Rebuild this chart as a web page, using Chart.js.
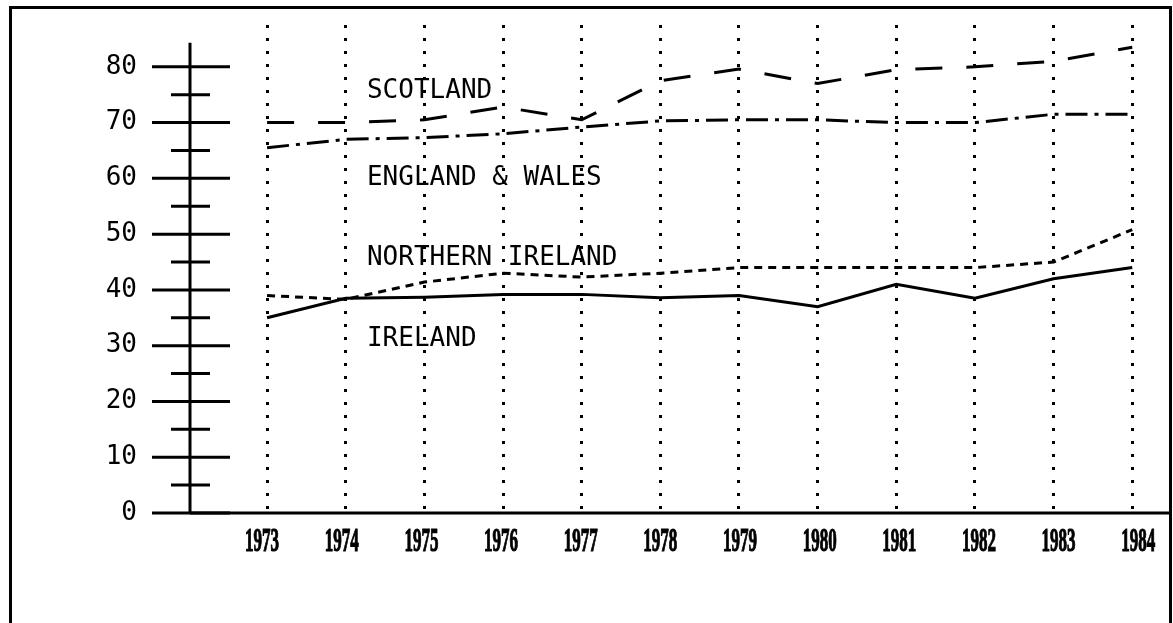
<!DOCTYPE html>
<html>
<head>
<meta charset="utf-8">
<script src="https://cdn.jsdelivr.net/npm/chart.js@4.4.1/dist/chart.umd.min.js"></script>
<style>
  html, body { margin: 0; padding: 0; background: #fff; }
  #wrap { position: relative; width: 1173px; height: 623px; overflow: hidden; background: #fff; }
  #frame { position: absolute; left: 9px; top: 6px; width: 1163px; height: 700px; border: 3px solid #000; box-sizing: border-box; }
  canvas { position: absolute; left: 0; top: 0; }
</style>
</head>
<body>
<div id="wrap">
  <canvas id="chart" width="1173" height="623"></canvas>
  <div id="frame"></div>
</div>
<script>
// data
const years = [1973, 1974, 1975, 1976, 1977, 1978, 1979, 1980, 1981, 1982, 1983, 1984];
const scotland = [70, 70, 70.5, 72.8, 70.5, 77.5, 79.6, 77, 79.5, 80, 81, 83.5];
const englandWales = [65.5, 67, 67.3, 68, 69.2, 70.3, 70.5, 70.5, 70, 70, 71.5, 71.5];
const northernIreland = [39, 38.3, 41.4, 43, 42.3, 43, 44, 44, 44, 44, 45, 50.8];
const ireland = [35, 38.5, 38.7, 39.2, 39.2, 38.6, 39, 37, 41, 38.5, 42, 44];
const yTicks = [0, 10, 20, 30, 40, 50, 60, 70, 80];
const yMinorTicks = [5, 15, 25, 35, 45, 55, 65, 75];
const seriesNames = ['SCOTLAND', 'ENGLAND & WALES', 'NORTHERN IRELAND', 'IRELAND'];
// where the series names sit, in data units
const nameYear = 1974.27;
const nameValues = [75.6, 60.1, 45.6, 31.1];

function pts(vals) {
  return years.map((yr, i) => ({ x: yr, y: vals[i] }));
}

// axis cross ticks, axis lines, year labels and series names
const decor = {
  id: 'decor',
  afterDraw(chart) {
    const ctx = chart.ctx;
    const x = chart.scales.x, y = chart.scales.y;
    const ax = x.left;
    const y0 = y.getPixelForValue(0);
    ctx.save();
    ctx.strokeStyle = '#000';
    ctx.fillStyle = '#000';
    ctx.lineWidth = 3;
    function seg(x1, y1, x2, y2) {
      ctx.beginPath(); ctx.moveTo(x1, y1); ctx.lineTo(x2, y2); ctx.stroke();
    }
    seg(ax, y0, ax, y.getPixelForValue(84.3));
    seg(ax, y0, x.right, y0);
    yTicks.forEach(v => { const p = y.getPixelForValue(v); seg(ax - 38, p, ax + 40, p); });
    yMinorTicks.forEach(v => { const p = y.getPixelForValue(v); seg(ax - 19, p, ax + 20, p); });

    // year labels, squeezed narrow; they drift a little right of the gridlines
    ctx.font = 'bold 34px "Liberation Serif", "DejaVu Serif", serif';
    ctx.textAlign = 'center';
    ctx.textBaseline = 'middle';
    ctx.lineWidth = 1.2;
    years.forEach(yr => {
      ctx.save();
      ctx.translate(x.getPixelForValue(yr) - 5 + (yr - years[0]), y0 + 29);
      ctx.scale(0.5, 1);
      ctx.fillText(String(yr), 0, 0);
      ctx.strokeText(String(yr), 0, 0);
      ctx.restore();
    });

    ctx.font = '26px "DejaVu Sans Mono", monospace';
    ctx.textAlign = 'left';
    seriesNames.forEach((t, i) => {
      ctx.fillText(t, x.getPixelForValue(nameYear), y.getPixelForValue(nameValues[i]));
    });
    ctx.restore();
  }
};

const lineStyle = { borderColor: '#000', borderWidth: 3, pointRadius: 0, tension: 0, fill: false, borderCapStyle: 'butt' };

new Chart(document.getElementById('chart'), {
  type: 'line',
  data: {
    datasets: [
      Object.assign({ label: 'Scotland', data: pts(scotland), borderDash: [27, 24] }, lineStyle),
      Object.assign({ label: 'England & Wales', data: pts(englandWales), borderDash: [22, 7, 4, 7] }, lineStyle),
      Object.assign({ label: 'Northern Ireland', data: pts(northernIreland), borderDash: [8, 6] }, lineStyle),
      Object.assign({ label: 'Ireland', data: pts(ireland) }, lineStyle)
    ]
  },
  options: {
    responsive: false,
    animation: false,
    layout: { padding: { top: 25, right: 3, left: 0, bottom: 0 } },
    plugins: { legend: { display: false }, tooltip: { enabled: false } },
    scales: {
      x: {
        type: 'linear',
        min: 1972.02,
        max: 1984.48,
        afterBuildTicks: s => { s.ticks = years.map(v => ({ value: v })); },
        afterFit: s => { s.height = 110; s.paddingLeft = 0; s.paddingRight = 0; },
        ticks: { display: false },
        grid: { color: '#000', lineWidth: 3, drawTicks: false },
        border: { display: false, dash: [3, 10] }
      },
      y: {
        min: 0,
        max: 87.5,
        afterBuildTicks: s => { s.ticks = yTicks.map(v => ({ value: v })); },
        afterFit: s => { s.width = 190; s.paddingTop = 0; s.paddingBottom = 0; },
        ticks: { color: '#000', padding: 53, font: { family: '"DejaVu Sans Mono", monospace', size: 26 } },
        grid: { display: false, drawTicks: false },
        border: { display: false }
      }
    }
  },
  plugins: [decor]
});
</script>
</body>
</html>
